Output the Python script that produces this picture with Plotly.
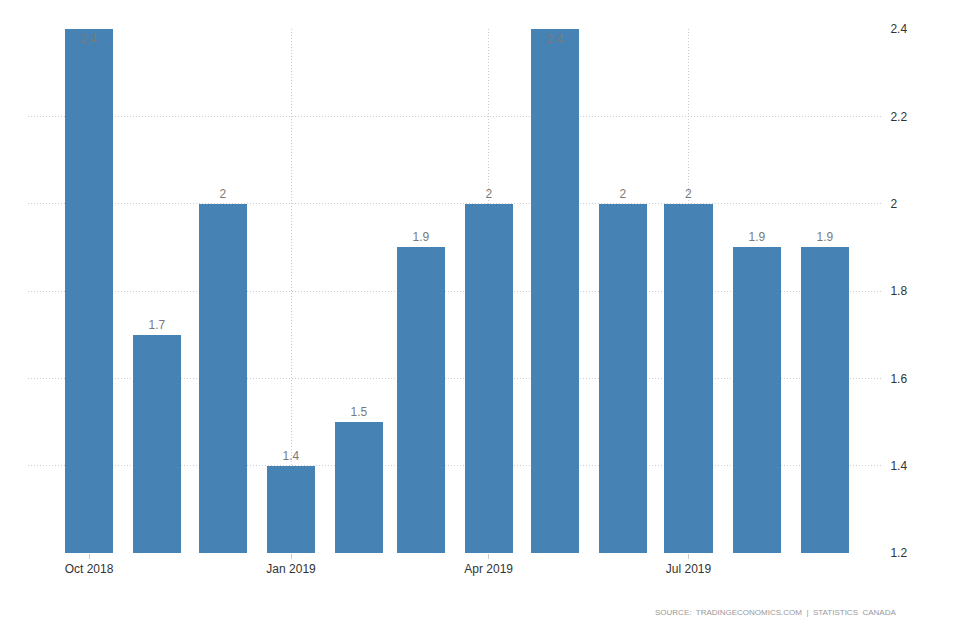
import plotly.graph_objects as go

months = ["2018-10-01", "2018-11-01", "2018-12-01", "2019-01-01", "2019-02-01", "2019-03-01",
          "2019-04-01", "2019-05-01", "2019-06-01", "2019-07-01", "2019-08-01", "2019-09-01"]
values = [2.4, 1.7, 2.0, 1.4, 1.5, 1.9, 2.0, 2.4, 2.0, 2.0, 1.9, 1.9]
y_ticks = [1.2, 1.4, 1.6, 1.8, 2.0, 2.2, 2.4]

labels = [f"{v:g}" for v in values]
positions = ["inside" if v >= max(y_ticks) else "outside" for v in values]

label_font = dict(family="Liberation Sans, Arial, sans-serif", size=12, color="#7a7a7a")
day_ms = 86400000
fig = go.Figure(go.Bar(
    x=months, y=values, width=[21.9 * day_ms] * len(values),
    marker=dict(color="#4682B4", line=dict(width=0)),
    text=labels, textposition=positions, insidetextanchor="end",
    constraintext="none",
    textfont=label_font, insidetextfont=label_font, outsidetextfont=label_font,
    cliponaxis=False, hoverinfo="x+y",
))

grid = dict(showgrid=True, gridcolor="#cccccc", griddash="1px,2px", gridwidth=1, zeroline=False)

fig.update_layout(
    width=954, height=636,
    margin=dict(l=20, r=79, t=21, b=91),
    plot_bgcolor="white", paper_bgcolor="white",
    showlegend=False, bargap=0,
    font=dict(family="Liberation Sans, Arial, sans-serif", size=12, color="#333333"),
    xaxis=dict(
        type="date", range=["2018-09-03 05:00", "2019-09-27 14:00"],
        tick0="2018-10-01", dtick="M3", tickformat="%b %Y",
        ticks="outside", ticklen=5, tickcolor="#cccccc",
        showline=False, **grid,
    ),
    yaxis=dict(
        side="right", range=[1.2, 2.4], tickvals=y_ticks,
        ticks="outside", ticklen=4, tickcolor="rgba(0,0,0,0)",
        showline=False, **grid,
    ),
    annotations=[dict(
        text="SOURCE:  TRADINGECONOMICS.COM  |  STATISTICS  CANADA",
        xref="paper", yref="paper", x=1.017, y=-0.113, xanchor="right", yanchor="middle",
        showarrow=False, font=dict(size=8, color="#999999"),
    )],
)

fig.write_html("out.html")
